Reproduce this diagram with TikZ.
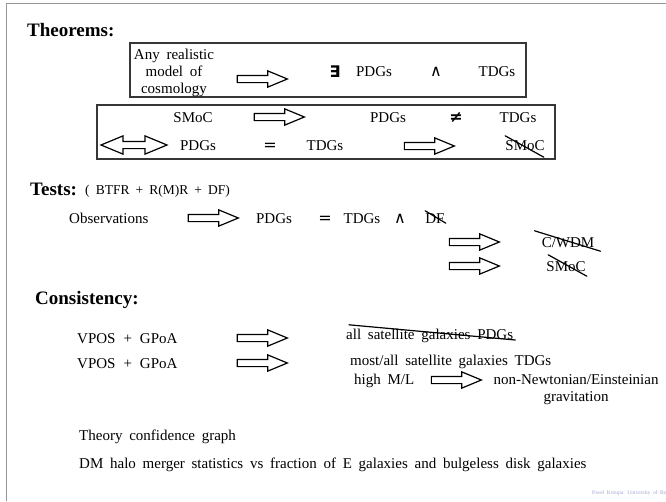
\documentclass[tikz,border=0pt]{standalone}
\usepackage{fontspec}
\setmainfont[WordSpace=1.8]{Liberation Serif}
\newfontfamily\glyphs{DejaVu Sans}
\usetikzlibrary{shapes.arrows,positioning}
\definecolor{rim}{RGB}{150,150,150}
\definecolor{boxline}{RGB}{55,55,55}
\definecolor{credit}{RGB}{160,165,205}
\tikzset{
  head/.style={font=\fontsize{19}{22}\selectfont\bfseries, inner sep=0pt, anchor=west},
  txt/.style={font=\fontsize{15}{17}\selectfont, inner sep=0pt, text height=11pt, text depth=1pt},
  lines/.style={font=\fontsize{15}{17}\selectfont, inner sep=0pt, align=center},
  sym/.style={font=\fontsize{16}{18}\selectfont\glyphs, inner sep=0pt, text height=11pt, text depth=1pt},
  panel/.style={draw=boxline, line width=1.3pt, inner sep=0pt},
  fat/.style={single arrow, draw, line width=1.2pt, fill=white, inner xsep=0pt, inner ysep=3pt,
              minimum height=50pt, single arrow head extend=4.5pt, single arrow tip angle=45},
  fatboth/.style={double arrow, draw, line width=1.2pt, fill=white, inner xsep=0pt, inner ysep=3pt,
              minimum height=66pt, double arrow head extend=5.5pt, double arrow tip angle=45},
  strike/.style={line width=1.2pt, line cap=round},
}

\begin{document}
\begin{tikzpicture}[x=1pt,y=-1pt]
  \useasboundingbox (0,0) rectangle (666,501);
  \draw[rim,line width=1.5pt] (6.5,501) -- (6.5,3.5) -- (666,3.5);
  % theorems
  \node[head] (thm) at (27,30) {Theorems:};
  \node[panel,minimum width=396pt,minimum height=54pt] (box1) at (328,70) {};
  \node[lines] (any) at (174,73) {Any realistic\\model of\\cosmology};
  \node[fat] (a1) at (258,79) {};
  \node[sym,font=\fontsize{16}{18}\selectfont\glyphs\bfseries] (ex) at (335,72) {∃};
  \node[txt] (pdg1) at (374,71) {PDGs};
  \node[sym] (and1) at (436,71) {∧};
  \node[txt] (tdg1) at (497,71) {TDGs};
  \node[panel,minimum width=458pt,minimum height=54pt] (box2) at (326,132) {};
  \node[txt] (smoc1) at (193,117) {SMoC};
  \node[fat] (a2) at (275,117) {};
  \node[txt] (pdg2) at (388,117) {PDGs};
  \node[sym,font=\fontsize{16}{18}\selectfont\glyphs\bfseries] (neq) at (456,117) {≠};
  \node[txt] (tdg2) at (518,117) {TDGs};
  \node[fatboth] (a3) at (134,145) {};
  \node[txt] (pdg3) at (198,145) {PDGs};
  \node[sym] (eq1) at (270,145) {=};
  \node[txt] (tdg3) at (325,145) {TDGs};
  \node[fat] (a4) at (425,146) {};
  \node[txt] (smoc2) at (525,145) {SMoC};
  \draw[strike] ([shift={(0,-3)}]smoc2.north west) -- ([shift={(-1,6)}]smoc2.south east);
  % tests
  \node[head] (tst) at (30,189) {Tests:};
  \node[txt,anchor=west,font=\fontsize{13.5}{15}\selectfont] (rel) at (85,189) {( BTFR + R(M)R + DF)};
  \node[txt,anchor=west] (obs) at (69,218) {Observations};
  \node[fat] (a5) at (209,218) {};
  \node[txt] (pdg4) at (274,218) {PDGs};
  \node[sym] (eq2) at (325,218) {=};
  \node[txt] (tdg4) at (362,218) {TDGs};
  \node[sym] (and2) at (400,218) {∧};
  \node[txt] (df) at (435,218) {DF};
  \draw[strike] ([shift={(0,-1)}]df.north west) -- ([shift={(1,-1)}]df.south east);
  \node[fat] (a6) at (470,242) {};
  \node[txt] (cwdm) at (568,242) {C/WDM};
  \draw[strike] ([shift={(-7,-5)}]cwdm.north west) -- ([shift={(6,3)}]cwdm.south east);
  \node[fat] (a7) at (470,266) {};
  \node[txt] (smoc3) at (566,266) {SMoC};
  \draw[strike] ([shift={(2,-5)}]smoc3.north west) -- ([shift={(1,4)}]smoc3.south east);
  % consistency
  \node[head] (cons) at (35,300) {Consistency:};
  \node[txt,anchor=west] (vp1) at (77,338) {VPOS\hspace{8pt}+\hspace{8pt}GPoA};
  \node[txt,anchor=west] (vp2) at (77,363) {VPOS\hspace{8pt}+\hspace{8pt}GPoA};
  \node[fat] (a8) at (258,338) {};
  \node[fat] (a9) at (258,363) {};
  \node[txt,anchor=west] (allsat) at (346,334) {all satellite galaxies PDGs};
  \draw[strike] ([shift={(3,-3)}]allsat.north west) -- ([shift={(2,6)}]allsat.east);
  \node[txt,anchor=west] (most) at (350,360) {most/all satellite galaxies TDGs};
  \node[txt,anchor=west] (ml) at (354,379) {high M/L};
  \node[fat] (a10) at (452,380) {};
  \node[lines] (grav) at (576,390) {non-Newtonian/Einsteinian\\gravitation};
  \node[txt,anchor=west] (tcg) at (79,435) {Theory confidence graph};
  \node[txt,anchor=west] (dm) at (79,463) {DM halo merger statistics vs fraction of E galaxies and bulgeless disk galaxies};
  \node[anchor=west,inner sep=0pt,text=credit,font=\fontsize{5.5}{6.5}\selectfont] (who) at (592,493) {Pavel Kroupa:\ University of Bonn};
\end{tikzpicture}
\end{document}
